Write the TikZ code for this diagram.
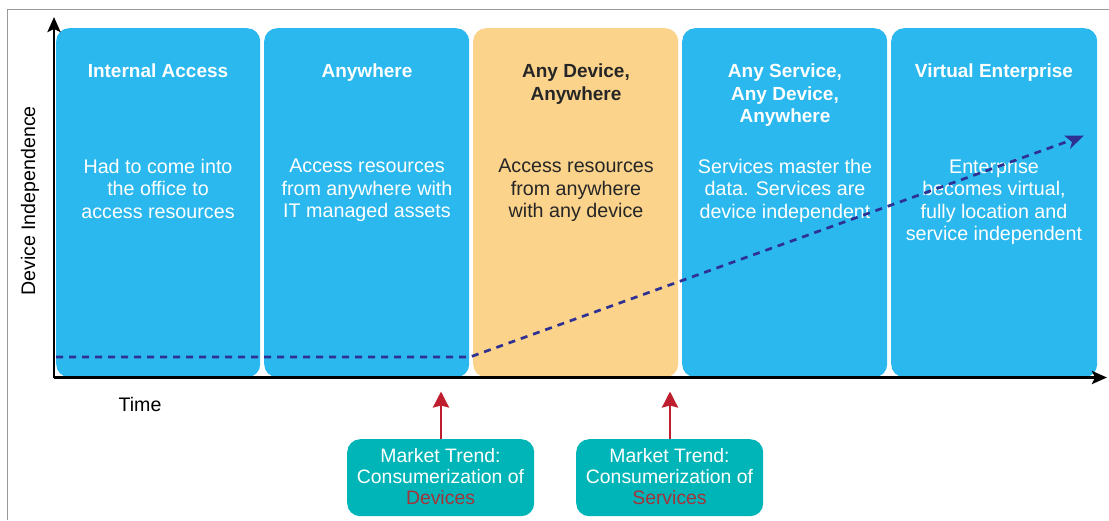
\documentclass[tikz,border=0pt]{standalone}
\usepackage{fontspec}
\setmainfont{Liberation Sans}
\usetikzlibrary{arrows.meta,calc}
\definecolor{cblue}{HTML}{2AB8EE}
\definecolor{corange}{HTML}{FBD38B}
\definecolor{cteal}{HTML}{00B5B8}
\definecolor{cnavy}{HTML}{2E3192}
\definecolor{cred}{HTML}{BE1E2D}
\definecolor{cdred}{HTML}{A5333A}
\tikzset{
 panel/.style={fill=cblue,rounded corners=13pt,minimum width=#1,minimum height=349pt,inner sep=0pt,anchor=north west},
 headtxt/.style={font=\fontsize{19}{22.5}\selectfont\bfseries,align=center,text=white,anchor=north},
 bodytxt/.style={font=\fontsize{19.7}{22.5}\selectfont,align=center,text=white,anchor=north},
 trend/.style={fill=cteal,rounded corners=13pt,minimum width=187pt,minimum height=77pt,inner sep=0pt,anchor=north west},
 trendtxt/.style={font=\fontsize{19.4}{21}\selectfont,align=center,text=white,anchor=north},
 axislabel/.style={font=\fontsize{19.6}{20}\selectfont,text=black},
 axisline/.style={draw=black,line width=2.8pt,-{Stealth[length=15pt,width=13pt,inset=3pt]}},
 redarrow/.style={draw=cred,line width=2.8pt,-{Stealth[length=16pt,width=16pt,inset=2pt]}},
 trendline/.style={draw=cnavy,line width=2.7pt,dash pattern=on 7pt off 6pt},
}
\begin{document}
\begin{tikzpicture}[x=1pt,y=-1pt]
\useasboundingbox (0,0) rectangle (1109,520);
\fill[white] (0,0) rectangle (1109,520);
\draw[draw=gray!80,line width=1pt] (7,520) -- (7,9.5) -- (1109,9.5);
% panels
\node[panel=204pt] (p1) at (56,28) {};
\node[panel=205pt] (p2) at (264,28) {};
\node[panel=205pt,fill=corange] (p3) at (473,28) {};
\node[panel=205pt] (p4) at (682,28) {};
\node[panel=206pt] (p5) at (891,28) {};
% headings
\node[headtxt] (h1) at (158,60.5) {Internal Access};
\node[headtxt] (h2) at (367,60.5) {Anywhere};
\node[headtxt,text=black!85] (h3) at (576,60.5) {Any Device,\\Anywhere};
\node[headtxt] (h4) at (785,60.5) {Any Service,\\Any Device,\\Anywhere};
\node[headtxt] (h5) at (994,60.5) {Virtual Enterprise};
% bodies
\node[bodytxt] (b1) at (158,155.5) {Had to come into\\the office to\\access resources};
\node[bodytxt] (b2) at (367,155.5) {Access resources\\from anywhere with\\IT managed assets};
\node[bodytxt,text=black!85] (b3) at (576,155.5) {Access resources\\from anywhere\\with any device};
\node[bodytxt] (b4) at (785,155.5) {Services master the\\data. Services are\\device independent};
\node[bodytxt] (b5) at (994,155.5) {Enterprise\\becomes virtual,\\fully location and\\service independent};
% trend line
\coordinate (t0) at (56,357);
\coordinate (t1) at (470,357);
\coordinate (t2) at (1084,135.5);
\draw[trendline] (t0) -- (t1) -- ($(t1)!0.98!(t2)$);
\fill[cnavy] (t2) -- (1064,135.5) -- (1072,142) -- (1070,149) -- cycle;
% axes
\coordinate (o) at (54,377.5);
\coordinate (ytop) at (54,17);
\coordinate (xend) at (1107,377.5);
\draw[axisline] (o) -- (ytop);
\draw[axisline] (o) -- (xend);
\node[axislabel,rotate=90] (yl) at (30,201) {Device Independence};
\node[axislabel] (xl) at (140,404) {Time};
% trends
\node[trend] (m1) at (347,439) {};
\node[trend] (m2) at (576,439) {};
\node[trendtxt] (m1t) at (440.5,444.5) {Market Trend:\\Consumerization of\\\textcolor{cdred}{Devices}};
\node[trendtxt] (m2t) at (669.5,444.5) {Market Trend:\\Consumerization of\\\textcolor{cdred}{Services}};
\coordinate (a1) at (441,391.5);
\coordinate (a2) at (670,391.5);
\draw[redarrow] (m1.north -| a1) -- (a1);
\draw[redarrow] (m2.north -| a2) -- (a2);
\end{tikzpicture}
\end{document}
